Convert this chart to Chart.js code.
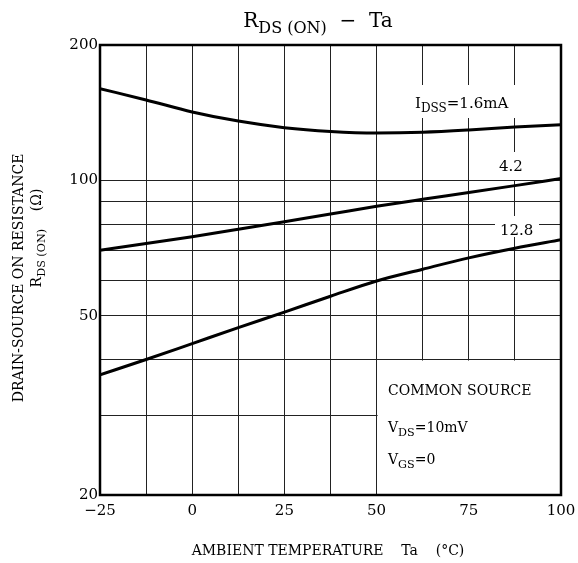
<!DOCTYPE html>
<html>
<head>
<meta charset="utf-8">
<script src="https://cdn.jsdelivr.net/npm/chart.js@4/dist/chart.umd.min.js"></script>
<style>
  body { margin: 0; background: #fff; }
  #wrap { width: 578px; height: 563px; }
</style>
</head>
<body>
<div id="wrap"><canvas id="chartRds" width="578" height="563"></canvas></div>
<script>
// Ta (°C)
let temps = [-25, -12.5, 0, 12.5, 25, 37.5, 50, 62.5, 75, 87.5, 100];
// RDS(ON) (ohm)
let idss16 = [160, 151, 142, 135.5, 131, 128.5, 127.5, 128, 129.5, 131.5, 133];
let idss42 = [70, 72.4, 75, 77.9, 81, 84.2, 87.6, 90.8, 94, 97.4, 101];
let idss128 = [37, 40, 43.4, 47.1, 51, 55.3, 59.8, 63.5, 67.3, 70.7, 73.8];

let xGrid = [-25, -12.5, 0, 12.5, 25, 37.5, 50, 62.5, 75, 87.5, 100];
let xLabels = [-25, 0, 25, 50, 75, 100];
let yGrid = [20, 30, 40, 50, 60, 70, 80, 90, 100, 200];
let yLabels = [20, 50, 100, 200];

const serif = '"DejaVu Serif", "Liberation Serif", serif';

function pts(ys) {
  return temps.map((t, i) => ({ x: t, y: ys[i] }));
}

// draws text pieces, some of them as subscripts
function drawRich(ctx, parts, x, y, size, align) {
  let widths = parts.map(p => {
    ctx.font = (p.sub ? size * 0.8 : size) + 'px ' + serif;
    return ctx.measureText(p.t).width;
  });
  let total = widths.reduce((a, b) => a + b, 0);
  let cx = align === 'center' ? x - total / 2 : x;
  ctx.textAlign = 'left';
  ctx.textBaseline = 'alphabetic';
  parts.forEach((p, i) => {
    ctx.font = (p.sub ? size * 0.8 : size) + 'px ' + serif;
    ctx.fillText(p.t, cx, y + (p.sub ? size * 0.28 : 0));
    cx += widths[i];
  });
}

const decor = {
  id: 'decor',
  beforeDatasetsDraw(chart) {
    let ctx = chart.ctx;
    let xs = chart.scales.x, ys = chart.scales.y;
    let a = chart.chartArea;
    ctx.save();
    ctx.fillStyle = '#fff';
    // gaps in the grid behind the labels
    ctx.fillRect(410, 85, 120, 33);
    ctx.fillRect(494, 152, 38, 28);
    ctx.fillRect(495, 216, 44, 21);
    // the note box
    let bx = xs.getPixelForValue(50), by = ys.getPixelForValue(40);
    ctx.fillRect(bx + 1, by + 1, a.right - bx - 1, a.bottom - by - 1);
    ctx.restore();
  },
  afterDraw(chart) {
    let ctx = chart.ctx;
    let a = chart.chartArea;
    ctx.save();
    ctx.strokeStyle = '#000';
    ctx.lineWidth = 2.5;
    ctx.strokeRect(a.left, a.top, a.right - a.left, a.bottom - a.top);

    ctx.fillStyle = '#000';
    // title
    drawRich(ctx, [{ t: 'R' }, { t: 'DS (ON)', sub: true }, { t: '  −  Ta' }], 318, 27, 20, 'center');
    // curve labels
    drawRich(ctx, [{ t: 'I' }, { t: 'DSS', sub: true }, { t: '=1.6mA' }], 415, 108, 15, 'left');
    drawRich(ctx, [{ t: '4.2' }], 499, 171, 15, 'left');
    drawRich(ctx, [{ t: '12.8' }], 500, 235, 15, 'left');
    // note box
    drawRich(ctx, [{ t: 'COMMON SOURCE' }], 388, 395, 14, 'left');
    drawRich(ctx, [{ t: 'V' }, { t: 'DS', sub: true }, { t: '=10mV' }], 388, 432, 14, 'left');
    drawRich(ctx, [{ t: 'V' }, { t: 'GS', sub: true }, { t: '=0' }], 388, 464, 14, 'left');
    // x title
    drawRich(ctx, [{ t: 'AMBIENT TEMPERATURE    Ta    (°C)' }], 328, 555, 14, 'center');
    // y title, rotated
    ctx.save();
    ctx.translate(23, 278);
    ctx.rotate(-Math.PI / 2);
    drawRich(ctx, [{ t: 'DRAIN-SOURCE ON RESISTANCE' }], 0, 0, 14, 'center');
    ctx.restore();
    ctx.save();
    ctx.translate(41, 238);
    ctx.rotate(-Math.PI / 2);
    drawRich(ctx, [{ t: 'R' }, { t: 'DS (ON)', sub: true }, { t: '    (Ω)' }], 0, 0, 14, 'center');
    ctx.restore();
    ctx.restore();
  }
};

let lineStyle = {
  borderColor: '#000',
  borderWidth: 3,
  pointRadius: 0,
  fill: false,
  cubicInterpolationMode: 'monotone'
};

let chartRds = new Chart(document.getElementById('chartRds').getContext('2d'), {
  type: 'line',
  data: {
    datasets: [
      Object.assign({ label: 'IDSS=1.6mA', data: pts(idss16) }, lineStyle),
      Object.assign({ label: '4.2', data: pts(idss42) }, lineStyle),
      Object.assign({ label: '12.8', data: pts(idss128) }, lineStyle)
    ]
  },
  options: {
    responsive: false,
    animation: false,
    layout: { padding: { top: 45, right: 17, left: 0, bottom: 0 } },
    plugins: { legend: { display: false }, tooltip: { enabled: false } },
    scales: {
      x: {
        type: 'linear',
        min: -25,
        max: 100,
        afterBuildTicks: axis => { axis.ticks = xGrid.map(v => ({ value: v })); },
        afterFit: axis => { axis.height = 68; axis.paddingLeft = 0; axis.paddingRight = 0; },
        grid: { color: '#222', lineWidth: 1, drawTicks: false },
        border: { display: false },
        ticks: {
          color: '#000',
          padding: 7,
          maxRotation: 0,
          autoSkip: false,
          font: { family: serif, size: 15 },
          callback: v => xLabels.includes(v) ? (v < 0 ? '−' + Math.abs(v) : String(v)) : ''
        }
      },
      y: {
        type: 'logarithmic',
        min: 20,
        max: 200,
        afterBuildTicks: axis => { axis.ticks = yGrid.map(v => ({ value: v })); },
        afterFit: axis => { axis.width = 100; },
        grid: { color: '#222', lineWidth: 1, drawTicks: false },
        border: { display: false },
        ticks: {
          color: '#000',
          padding: 2,
          autoSkip: false,
          font: { family: serif, size: 15 },
          callback: v => yLabels.includes(v) ? String(v) : ''
        }
      }
    }
  },
  plugins: [decor]
});
</script>
</body>
</html>
